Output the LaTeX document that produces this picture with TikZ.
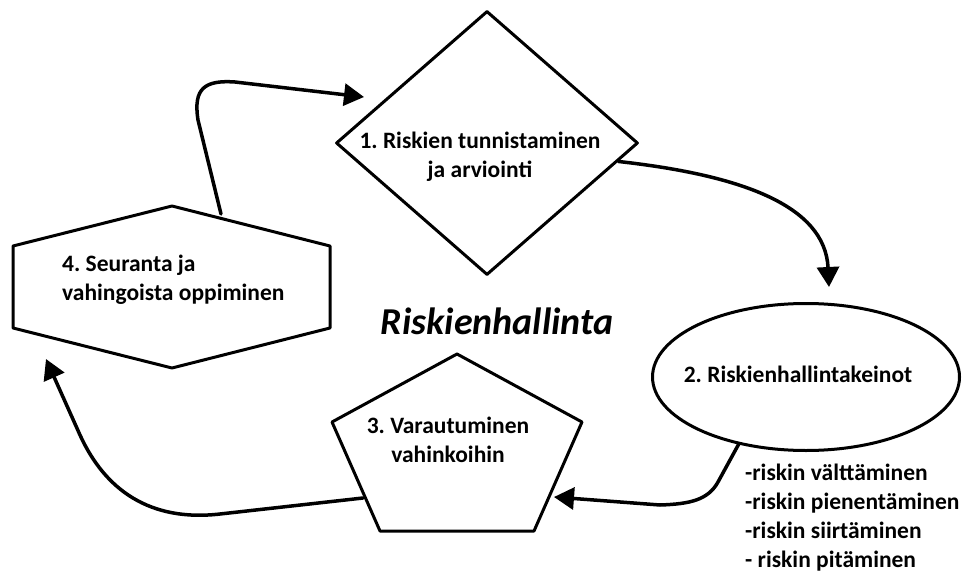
\documentclass[tikz,border=0pt]{standalone}
\usepackage{fontspec}
\setmainfont{Carlito}
\frenchspacing
\usetikzlibrary{shapes.geometric,arrows.meta}
\begin{document}
\begin{tikzpicture}[x=1pt,y=-1pt,>={Triangle[length=20pt,width=22pt]},
  teksti/.style={font=\fontsize{23.5}{29}\selectfont\bfseries, align=center, inner sep=0pt},
  reuna/.style={draw, line width=3pt, line join=round},
  nuoli/.style={->, line width=3.5pt, line cap=round, line join=round}]
\useasboundingbox (0,0) rectangle (963,572);
% vaiheet
\node[reuna, diamond, minimum width=302pt, minimum height=264pt, inner sep=0pt] (tunnistus) at (487,143) {};
\node[teksti] (tunnistusteksti) at (480,157) {1. Riskien tunnistaminen\\ja arviointi};
\node[reuna, ellipse, minimum width=307pt, minimum height=147pt, inner sep=0pt] (keinot) at (806,377) {};
\node[teksti] (keinotteksti) at (798,374) {2. Riskienhallintakeinot};
\draw[reuna] (457,354) -- (582,422) -- (534,531) -- (380,531) -- (332,422) -- cycle;
\node[teksti] (varautuminen) at (448,440) {3. Varautuminen\\vahinkoihin};
\draw[reuna] (172,206) -- (330,246) -- (330,328) -- (172,368) -- (13,328) -- (13,246) -- cycle;
\node[teksti, align=left, anchor=west] (seuranta) at (62,280) {4. Seuranta ja\\vahingoista oppiminen};
\node[teksti, align=left, anchor=west] (keinolista) at (745,518) {-riskin välttäminen\\-riskin pienentäminen\\-riskin siirtäminen\\- riskin pitäminen};
\node[font=\fontsize{38}{42}\selectfont\bfseries\itshape] (otsikko) at (497,321) {Riskienhallinta};
% nuolten päät
\coordinate (seurantalahto) at (221,214);
\coordinate (tunnistustulo) at (364,97);
\coordinate (keinottulo) at (829,287);
\coordinate (varautuminentulo) at (554,497);
\coordinate (varautuminenlahto) at (363,498);
\coordinate (seurantatulo) at (46,359);
% nuolet
\draw[nuoli] (seurantalahto) -- (198,120) .. controls (193,88) and (205,80) .. (235,82) -- (tunnistustulo);
\draw[nuoli] (tunnistus.-8) .. controls (740,175) and (825,205) .. (keinottulo);
\draw[nuoli] (keinot.225) -- (718,482) .. controls (708,500) and (690,504) .. (660,505) -- (varautuminentulo);
\draw[nuoli] (varautuminenlahto) -- (220,514) .. controls (150,522) and (105,490) .. (80,435) -- (seurantatulo);
\end{tikzpicture}
\end{document}
